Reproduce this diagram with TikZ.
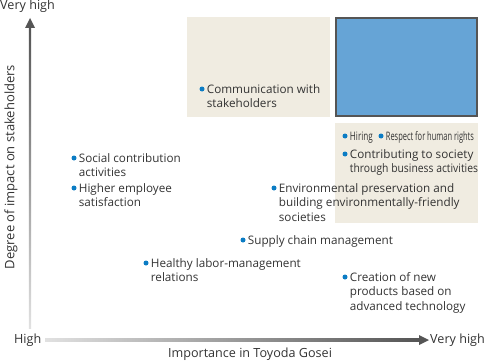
\documentclass[tikz,border=0pt]{standalone}
\usepackage{fontspec}
\setmainfont{Open Sans}
\usetikzlibrary{positioning}
\definecolor{beige}{RGB}{240,236,225}
\definecolor{cellblue}{RGB}{102,164,214}
\definecolor{dotblue}{RGB}{11,124,196}
\definecolor{txt}{RGB}{51,51,51}
\definecolor{axisdark}{RGB}{85,85,85}
\definecolor{axislight}{RGB}{225,225,225}
\begin{document}
\begin{tikzpicture}[x=1pt, y=-1pt,
  dot/.style={circle, fill=dotblue, inner sep=0pt, minimum size=5pt},
  item/.style={anchor=north west, align=left, inner sep=0pt, text=txt,
    font=\fontsize{11.7}{14.5}\selectfont},
  axislabel/.style={inner sep=0pt, text=txt, font=\fontsize{12.6}{14}\selectfont}]
\useasboundingbox (0,0) rectangle (487,361);

% shaded areas of the matrix
\fill[beige] (187,17) rectangle (330,117);
\fill[beige] (335,123) rectangle (478,223);
\draw[axisdark, line width=1.6pt, fill=cellblue] (335.8,17.8) rectangle (477.2,116.2);

% the axes, light at the origin and dark at the tip
\coordinate (ybot) at (30,328);
\coordinate (ytip) at (30,18);
\coordinate (xleft) at (45,340);
\coordinate (xtip) at (429,340);
\shade[bottom color=axislight, top color=axisdark] (28.8,328) rectangle (31.2,27);
\fill[axisdark] (ytip) -- ++(-5,10) -- ++(10,0) -- cycle;
\shade[left color=axislight, right color=axisdark] (45,338.8) rectangle (419,341.2);
\fill[axisdark] (xtip) -- ++(-10,-5) -- ++(0,10) -- cycle;

% axis labels
\node[axislabel, anchor=west] (yhigh) at (0,6) {Very high};
\node[axislabel, anchor=west] (origin) at (14,340) {High};
\node[axislabel, anchor=west] (xhigh) at (430,340) {Very high};
\node[axislabel] (xname) at (250,354) {Importance in Toyoda Gosei};
\node[axislabel, rotate=90, font=\fontsize{13}{14}\selectfont] (yname) at (11,167) {Degree of impact on stakeholders};

% the issues
\foreach \n/\x/\y/\txt in {
  comm/202/89/{Communication with\\stakeholders},
  contrib/345/154/{Contributing to society\\\scalebox{0.885}[1]{through business activities}},
  social/74/158/{Social contribution\\activities},
  employee/74/188/{Higher employee\\satisfaction},
  env/274/188/{Environmental preservation and\\building environmentally-friendly\\societies},
  supply/243/240/{Supply chain management},
  labor/146/263/{Healthy labor-management\\relations},
  tech/345/277/{Creation of new\\products based on\\advanced technology}} {
  \node[dot] (d-\n) at (\x,\y) {};
  \node[item] (t-\n) at ([xshift=2pt,yshift=6.3pt]d-\n.east) {\strut\txt};
}

% the two small ones share a line
\node[dot] (d-hiring) at (345,136) {};
\node[item] (t-hiring) at ([xshift=2pt,yshift=6.3pt]d-hiring.east) {\strut\resizebox{23pt}{\height}{Hiring}};
\node[dot] (d-rights) at (381,136) {};
\node[item] (t-rights) at ([xshift=2pt,yshift=6.3pt]d-rights.east) {\strut\resizebox{88pt}{\height}{Respect for human rights}};
\end{tikzpicture}
\end{document}
